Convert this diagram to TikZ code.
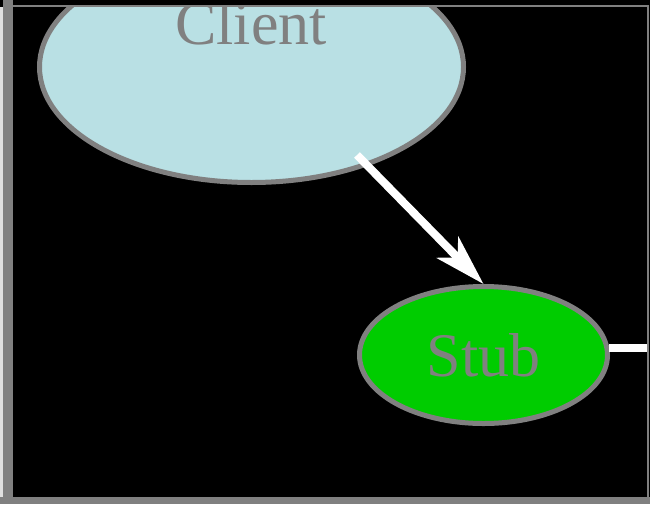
\documentclass[tikz,border=0pt]{standalone}
\usepackage{fontspec}
\setmainfont{Liberation Serif}
\usetikzlibrary{shapes.geometric,arrows.meta}

\definecolor{framegray}{RGB}{128,128,128}
\definecolor{clientblue}{RGB}{185,224,228}
\definecolor{stubgreen}{RGB}{0,204,0}

\begin{document}
\begin{tikzpicture}
    [x=1pt,y=-1pt,
    node/.style={shape=ellipse,draw=framegray,line width=5pt,inner sep=0pt,
      text=framegray,font=\fontsize{62}{70}\selectfont},
    arc/.style={-{Stealth[length=51pt,width=30pt,inset=14pt]},white,line width=8pt},
    edge/.style={white,line width=8pt}]

    \useasboundingbox (0,0) rectangle (650,504);

    % page and frame
    \fill [black] (0,0) rectangle (650,504);
    \fill [framegray!25] (0,7) rectangle (3,504);
    \fill [framegray] (3,0) rectangle (13,504);
    \fill [framegray] (0,497) rectangle (650,504);

    \begin{scope}
      \clip (13,7) rectangle (647,497);

      \node (client) [node,fill=clientblue,minimum width=424pt,minimum height=231pt] at (251.5,67) {};
      \node (clientname) [text=framegray,font=\fontsize{62}{70}\selectfont,anchor=base,inner sep=0pt] at (251,44) {Client};
      \node (stub) [node,fill=stubgreen,minimum width=248pt,minimum height=137pt] at (483.5,355) {Stub};

      \coordinate (tail) at (357,155);
      \coordinate (exit) at (650,0);

      \draw [arc] (tail) -- (stub.north);
      \draw [edge] (stub.3) -- (stub.3 -| exit);
    \end{scope}

    \draw [framegray,line width=2pt] (13,6) -- (648,6) -- (648,497);

\end{tikzpicture}
\end{document}
